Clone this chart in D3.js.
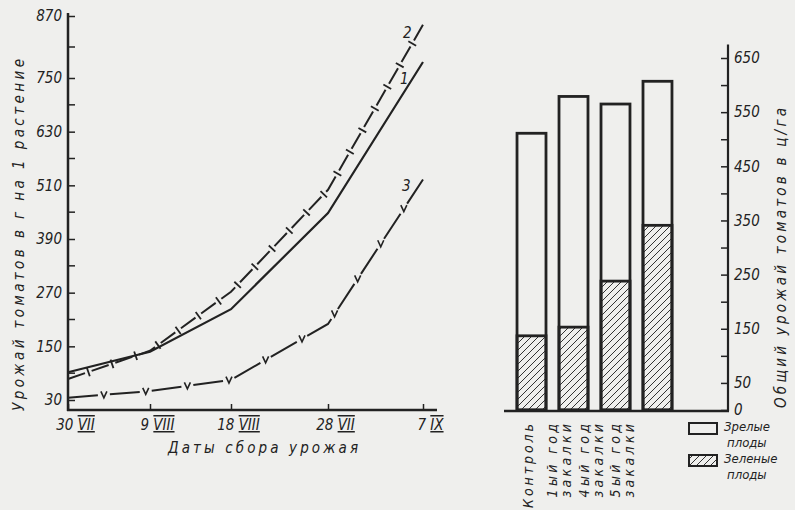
<!DOCTYPE html>
<html>
<head>
<meta charset="utf-8">
<script src="https://cdn.jsdelivr.net/npm/d3@7"></script>
<style>
  body { margin: 0; background: #efefed; }
  text { font-family: "DejaVu Sans Condensed", "Liberation Sans Narrow", sans-serif; font-style: italic; fill: #222; }
</style>
</head>
<body>
<svg id="chart" width="795" height="510"></svg>
<script>
// harvest dates (x axis of the left graph)
var dates = ["30 VII", "9 VIII", "18 VIII", "28 VII", "7 IX"];
// yield, g per plant
var line1 = [92, 138, 233, 448, 781];
var line2 = [77, 140, 272, 500, 853];
var line3 = [35, 50, 75, 200, 523];
var leftTicks = [30, 150, 270, 390, 510, 630, 750, 870];
var leftMinor = [90, 210, 330, 450, 570, 690, 810];

// total yield, c/ha
var categories = ["Контроль", "1ый год закалки", "4ый год закалки", "5ый год закалки"];
var catLines = [["Контроль"], ["1ый год", "закалки"], ["4ый год", "закалки"], ["5ый год", "закалки"]];
var totalYield = [511, 579, 565, 607];
var greenYield = [137, 153, 238, 341];
var rightTicks = [0, 50, 100, 150, 200, 250, 300, 350, 400, 450, 500, 550, 600, 650];
var rightLabels = [0, 50, 150, 250, 350, 450, 550, 650];

var svg = d3.select("#chart");
var ink = "#222";

// hatch pattern for green fruit
svg.append("defs").append("pattern")
    .attr("id", "hatch")
    .attr("patternUnits", "userSpaceOnUse")
    .attr("width", 7).attr("height", 7)
  .append("path")
    .attr("d", "M0,7 L7,0 M-1,1 L1,-1 M6,8 L8,6")
    .attr("stroke", "#333").attr("stroke-width", 1);

// ---------- left graph ----------
var x = d3.scaleOrdinal().domain(dates).range([68, 150, 231, 328, 423]);
var y = d3.scaleLinear().domain([30, 750, 870]).range([400, 78, 16]);

var left = svg.append("g");

// axes lines
left.append("line").attr("x1", 68).attr("x2", 68)
    .attr("y1", 411).attr("y2", 13)
    .attr("stroke", ink).attr("stroke-width", 2.5);
left.append("line").attr("x1", 67).attr("x2", 437)
    .attr("y1", 410).attr("y2", 410)
    .attr("stroke", ink).attr("stroke-width", 2.5);

var yAxis = left.append("g")
    .attr("transform", "translate(68,0)")
    .call(d3.axisLeft(y).tickValues(leftTicks).tickSize(-7).tickPadding(6));
yAxis.select(".domain").remove();
yAxis.selectAll("line").attr("stroke", ink).attr("stroke-width", 1.5);
yAxis.selectAll("text").attr("font-size", 15).style("font-family", null);

left.selectAll(".minor").data(leftMinor).enter().append("line")
    .attr("x1", 68).attr("x2", 75)
    .attr("y1", function(d) { return y(d); })
    .attr("y2", function(d) { return y(d); })
    .attr("stroke", ink).attr("stroke-width", 1.5);

var xAxis = left.append("g")
    .attr("transform", "translate(0,410)")
    .call(d3.axisBottom(x).tickSize(-6).tickPadding(8));
xAxis.select(".domain").remove();
xAxis.selectAll("line").attr("stroke", ink).attr("stroke-width", 1.5);
xAxis.selectAll("text")
    .attr("font-size", 15).attr("dx", 7).attr("dy", "0.8em")
    .style("font-family", null)
    .each(function(d) {
        var parts = d.split(" ");
        var t = d3.select(this).text(parts[0] + " ");
        t.append("tspan").text(parts[1])
            .style("text-decoration", "underline overline");
    });

left.append("text")
    .attr("x", 263).attr("y", 453)
    .attr("text-anchor", "middle")
    .attr("font-size", 15)
    .attr("textLength", 190).attr("lengthAdjust", "spacing")
    .text("Даты сбора урожая");

left.append("text")
    .attr("transform", "translate(24,235) rotate(-90)")
    .attr("text-anchor", "middle")
    .attr("font-size", 15)
    .attr("textLength", 352).attr("lengthAdjust", "spacing")
    .text("Урожай томатов в г на 1 растение");

var line = d3.line()
    .x(function(d, i) { return x(dates[i]); })
    .y(function(d) { return y(d); });

// marks placed along a path at regular length steps
function alongPath(path, start, step, fn) {
    var node = path.node(), len = node.getTotalLength();
    for (var l = start; l < len - 4; l += step) {
        var p = node.getPointAtLength(l);
        var q = node.getPointAtLength(Math.min(l + 1, len));
        fn(p, Math.atan2(q.y - p.y, q.x - p.x) * 180 / Math.PI);
    }
}

left.append("path").datum(line1)
    .attr("d", line).attr("fill", "none")
    .attr("stroke", ink).attr("stroke-width", 2.2);

var p2 = left.append("path").datum(line2)
    .attr("d", line).attr("fill", "none")
    .attr("stroke", ink).attr("stroke-width", 2)
    .attr("stroke-dasharray", "18,7");
alongPath(p2, 21.5, 25, function(p, a) {
    left.append("line")
        .attr("x1", 0).attr("x2", 0).attr("y1", -4.5).attr("y2", 4.5)
        .attr("transform", "translate(" + p.x + "," + p.y + ") rotate(" + a + ")")
        .attr("stroke", ink).attr("stroke-width", 1.8);
});

var p3 = left.append("path").datum(line3)
    .attr("d", line).attr("fill", "none")
    .attr("stroke", ink).attr("stroke-width", 2)
    .attr("stroke-dasharray", "30,12");
alongPath(p3, 36, 42, function(p) {
    left.append("path")
        .attr("d", "M-3,-3.5 L0,3 L3,-3.5")
        .attr("transform", "translate(" + p.x + "," + p.y + ")")
        .attr("fill", "none")
        .attr("stroke", ink).attr("stroke-width", 1.6);
});

left.append("text").attr("x", 403).attr("y", 38).attr("font-size", 15).text("2");
left.append("text").attr("x", 400).attr("y", 84).attr("font-size", 15).text("1");
left.append("text").attr("x", 402).attr("y", 191).attr("font-size", 15).text("3");

// ---------- right graph ----------
var band = d3.scaleBand().domain(categories).range([504, 685]).padding(0.31);
var yr = d3.scaleLinear().domain([0, 650]).range([410, 58]);

var right = svg.append("g");

right.selectAll(".total").data(totalYield).enter().append("rect")
    .attr("x", function(d, i) { return band(categories[i]); })
    .attr("y", function(d) { return yr(d); })
    .attr("width", band.bandwidth())
    .attr("height", function(d) { return yr(0) - yr(d); })
    .attr("fill", "none").attr("stroke", ink).attr("stroke-width", 2.8);

right.selectAll(".green").data(greenYield).enter().append("rect")
    .attr("x", function(d, i) { return band(categories[i]); })
    .attr("y", function(d) { return yr(d); })
    .attr("width", band.bandwidth())
    .attr("height", function(d) { return yr(0) - yr(d); })
    .attr("fill", "url(#hatch)").attr("stroke", ink).attr("stroke-width", 2.8);

right.append("line").attr("x1", 504).attr("x2", 729)
    .attr("y1", 411).attr("y2", 411)
    .attr("stroke", ink).attr("stroke-width", 2.5);
right.append("line").attr("x1", 728).attr("x2", 728)
    .attr("y1", 411).attr("y2", yr(675))
    .attr("stroke", ink).attr("stroke-width", 2.2);

var yrAxis = right.append("g")
    .attr("transform", "translate(728,0)")
    .call(d3.axisRight(yr).tickValues(rightTicks).tickSize(-7).tickPadding(6)
        .tickFormat(function(d) { return rightLabels.indexOf(d) >= 0 ? d : ""; }));
yrAxis.select(".domain").remove();
yrAxis.selectAll("line").attr("stroke", ink).attr("stroke-width", 1.5);
yrAxis.selectAll("text").attr("font-size", 15).style("font-family", null);

right.append("text")
    .attr("transform", "translate(786,258) rotate(-90)")
    .attr("text-anchor", "middle")
    .attr("font-size", 15)
    .attr("textLength", 300).attr("lengthAdjust", "spacing")
    .text("Общий урожай томатов в ц/га");

// category labels, rotated
var labelX = d3.scalePoint().domain(categories).range([528, 622]);
catLines.forEach(function(lines, i) {
    var cx = labelX(categories[i]);
    lines.forEach(function(s, j) {
        var off = lines.length === 1 ? 0 : (j === 0 ? -7 : 7);
        right.append("text")
            .attr("transform", "translate(" + (cx + off + 5) + ",424) rotate(-90)")
            .attr("text-anchor", "end")
            .attr("font-size", 14)
            .attr("textLength", s.length * 10.5).attr("lengthAdjust", "spacing")
            .text(s);
    });
});

// legend
var legend = right.append("g");
legend.append("rect").attr("x", 689).attr("y", 423).attr("width", 28).attr("height", 11)
    .attr("fill", "none").attr("stroke", ink).attr("stroke-width", 2);
legend.append("rect").attr("x", 689).attr("y", 455).attr("width", 28).attr("height", 11)
    .attr("fill", "url(#hatch)").attr("stroke", ink).attr("stroke-width", 2);
[["Зрелые", 431], ["плоды", 447], ["Зеленые", 463], ["плоды", 479]].forEach(function(t, i) {
    legend.append("text")
        .attr("x", i % 2 === 0 ? 724 : 727).attr("y", t[1])
        .attr("font-size", 13)
        .text(t[0]);
});
</script>
</body>
</html>
